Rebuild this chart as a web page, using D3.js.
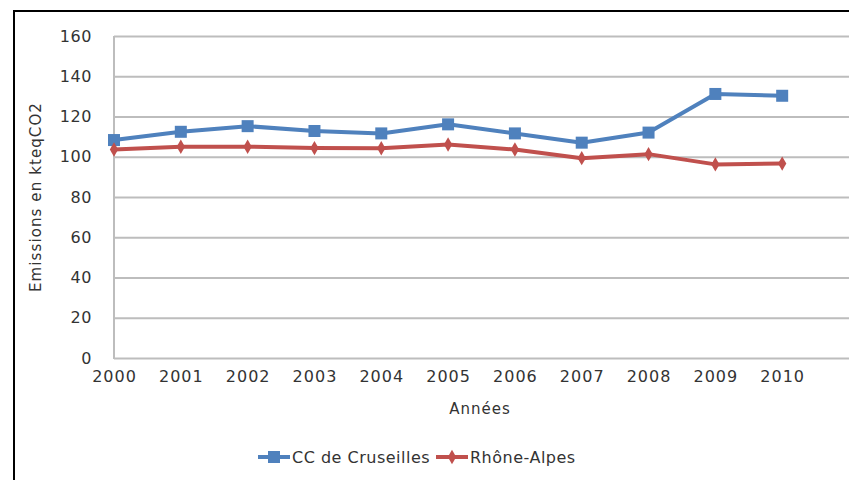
<!DOCTYPE html>
<html><head><meta charset="utf-8">
<script src="https://cdn.jsdelivr.net/npm/d3@7"></script>
<style>
html,body{margin:0;padding:0;background:#fff;}
svg{display:block;}
text{font-family:"DejaVu Sans",Verdana,sans-serif;fill:#333;}
</style></head>
<body><svg id="c" width="849" height="480"></svg>
<script>
const years = [2000,2001,2002,2003,2004,2005,2006,2007,2008,2009,2010];
const cruseilles = [108.3,112.4,115.2,112.8,111.6,116.1,111.6,107.0,112.0,131.2,130.3];
const rhoneAlpes = [103.6,105.0,105.0,104.3,104.2,106.1,103.6,99.3,101.3,96.2,96.6];
const yTicks = [0,20,40,60,80,100,120,140,160];
const seriesNames = ["CC de Cruseilles","Rhône-Alpes"];
const colors = ["#4F81BD","#C0504D"];

const svg = d3.select("#c");
svg.append("rect").attr("x",14).attr("y",11).attr("width",850).attr("height",480)
  .attr("fill","#fff").attr("stroke","#000").attr("stroke-width",2);

const x = d3.scaleLinear().domain([2000,2011]).range([114,849]);
const y = d3.scaleLinear().domain([0,160]).range([358,36]);

const gy = svg.append("g").attr("transform","translate(114,0)")
  .call(d3.axisLeft(y).tickValues(yTicks).tickSize(-760).tickFormat(""));
gy.selectAll("line").attr("stroke","#BDBDBD").attr("stroke-width",2);
gy.select(".domain").remove();

svg.append("line").attr("x1",114).attr("x2",114).attr("y1",36).attr("y2",359)
  .attr("stroke","#BDBDBD").attr("stroke-width",2);

const ya = svg.append("g").attr("transform","translate(114,0)")
  .call(d3.axisLeft(y).tickValues(yTicks).tickSize(0).tickPadding(22));
ya.select(".domain").remove();
ya.selectAll("text").style("font-size","16px").style("letter-spacing","0.6px").attr("fill","#333");

const xa = svg.append("g").attr("transform","translate(0,358)")
  .call(d3.axisBottom(x).tickValues(years).tickFormat(d3.format("d")).tickSize(0).tickPadding(13));
xa.select(".domain").remove();
xa.selectAll("text").style("font-size","16px").style("letter-spacing","1px").attr("fill","#333");

svg.append("text").attr("transform","translate(41,197) rotate(-90)")
  .attr("text-anchor","middle").style("font-size","15px").style("letter-spacing","1.1px").text("Emissions en kteqCO2");
svg.append("text").attr("x",480).attr("y",414).attr("text-anchor","middle")
  .style("font-size","15px").style("letter-spacing","1px").text("Années");

const line = d3.line().x((d,i)=>x(years[i])).y(d=>y(d));
const data = [cruseilles, rhoneAlpes];
data.forEach((s,k)=>{
  svg.append("path").datum(s).attr("d",line).attr("fill","none")
    .attr("stroke",colors[k]).attr("stroke-width",4).attr("stroke-linejoin","round");
});
svg.append("g").selectAll("rect").data(cruseilles).join("rect")
  .attr("x",(d,i)=>x(years[i])-6).attr("y",d=>y(d)-6).attr("width",12).attr("height",12)
  .attr("fill",colors[0]);
const diamond = d3.symbol().type(d3.symbolDiamond).size(60);
svg.append("g").selectAll("path").data(rhoneAlpes).join("path")
  .attr("transform",(d,i)=>`translate(${x(years[i])},${y(d)})`)
  .attr("d",diamond).attr("fill",colors[1]);

const lg = svg.append("g");
const items = [{x:258,tx:292},{x:436,tx:470}];
items.forEach((it,k)=>{
  lg.append("line").attr("x1",it.x).attr("x2",it.x+32).attr("y1",457).attr("y2",457)
    .attr("stroke",colors[k]).attr("stroke-width",4);
  if(k===0){
    lg.append("rect").attr("x",it.x+10).attr("y",451).attr("width",12).attr("height",12).attr("fill",colors[0]);
  } else {
    lg.append("path").attr("transform",`translate(${it.x+16},457)`).attr("d",diamond).attr("fill",colors[1]);
  }
  lg.append("text").attr("x",it.tx).attr("y",463).style("font-size","16px").style("letter-spacing","0.5px").text(seriesNames[k]);
});
</script></body></html>
